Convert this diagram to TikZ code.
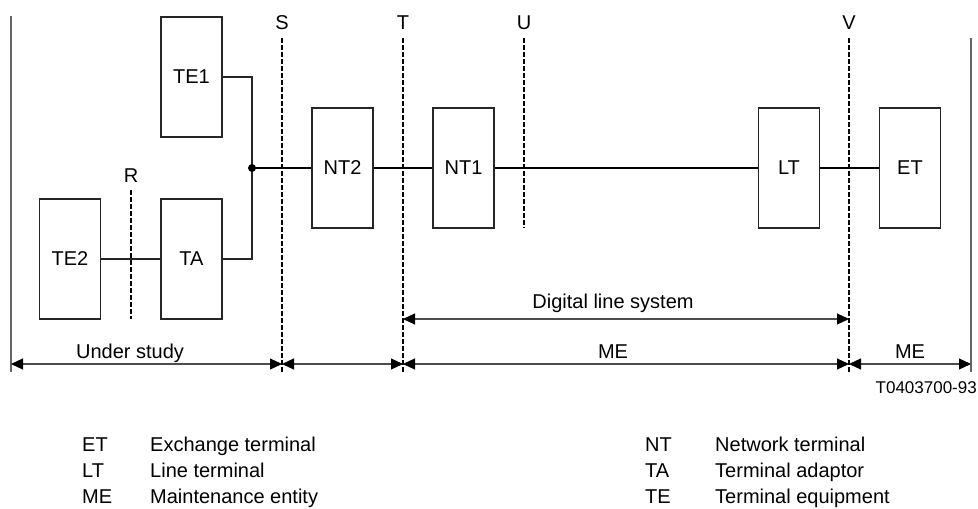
\documentclass[tikz,border=0pt]{standalone}
\usepackage{fontspec}
\setmainfont{Liberation Sans}
\usetikzlibrary{arrows.meta}
\begin{document}
\begin{tikzpicture}[x=1pt,y=-1pt,
  font=\fontsize{20}{24}\selectfont,
  unitbox/.style={draw=black!85,line width=1.2pt,minimum width=61pt,minimum height=120pt,inner sep=0pt},
  thinln/.style={draw=black!85,line width=1.2pt},
  thickln/.style={draw=black,line width=2pt},
  refline/.style={draw=black,line width=1.8pt,dash pattern=on 5pt off 2pt},
  borderln/.style={draw=black!60,line width=1.2pt},
  dimln/.style={draw=black!70,line width=1.1pt,{Triangle[length=12pt,width=11pt,black]}-{Triangle[length=12pt,width=11pt,black]}},
  lbl/.style={inner sep=0pt,anchor=base},
  leg/.style={inner sep=0pt,anchor=base west}]
\useasboundingbox (0,0) rectangle (978,509);
% boxes
\node[unitbox] (te1) at (191.5,77) {TE1};
\node[unitbox] (te2) at (70,259) {TE2};
\node[unitbox] (ta) at (191.5,259) {TA};
\node[unitbox] (nt2) at (342.5,168) {NT2};
\node[unitbox] (nt1) at (463.5,168) {NT1};
\node[unitbox] (lt) at (789,168) {LT};
\node[unitbox] (et) at (910,168) {ET};
% borders
\coordinate (bl1) at (11,16); \coordinate (bl2) at (11,372);
\coordinate (br1) at (971,38); \coordinate (br2) at (971,372);
\draw[borderln] (bl1) -- (bl2);
\draw[borderln] (br1) -- (br2);
% reference points
\coordinate (rT) at (131,190); \coordinate (rB) at (131,319);
\coordinate (sT) at (282,38); \coordinate (sB) at (282,372);
\coordinate (tT) at (403,38); \coordinate (tB) at (403,372);
\coordinate (uT) at (524,38); \coordinate (uB) at (524,228);
\coordinate (vT) at (849,38); \coordinate (vB) at (849,372);
\draw[refline] (rT) -- (rB);
\draw[refline] (sT) -- (sB);
\draw[refline] (tT) -- (tB);
\draw[refline] (uT) -- (uB);
\draw[refline] (vT) -- (vB);
\node[lbl] (rl) at (131,182) {R};
\node[lbl] (sl) at (282,29) {S};
\node[lbl] (tl) at (403,29) {T};
\node[lbl] (ul) at (524,29) {U};
\node[lbl] (vl) at (849,29) {V};
% connectors
\coordinate (j) at (252,168);
\draw[thinln] (te1.east) -| (j) |- (ta.east);
\draw[thinln] (te2.east) -- (ta.west);
\draw[thickln] (j) -- (nt2.west);
\draw[thickln] (nt2.east) -- (nt1.west);
\draw[thickln] (nt1.east) -- (lt.west);
\draw[thickln] (lt.east) -- (et.west);
\node[circle,fill=black,inner sep=0pt,minimum size=8pt] (dot) at (j) {};
% dimension arrows
\coordinate (d1) at (403,319); \coordinate (d2) at (849,319);
\draw[dimln] (d1) -- (d2);
\node[lbl] (dls) at (613,308) {Digital line system};
\coordinate (a0) at (11,364); \coordinate (a1) at (282,364);
\coordinate (a2) at (403,364); \coordinate (a3) at (849,364);
\coordinate (a4) at (971,364);
\draw[dimln] (a0) -- (a1);
\draw[dimln] (a1) -- (a2);
\draw[dimln] (a2) -- (a3);
\draw[dimln] (a3) -- (a4);
\node[lbl] (us) at (130,358) {Under study};
\node[lbl] (me1) at (613,358) {ME};
\node[lbl] (me2) at (910,358) {ME};
\node[inner sep=0pt,anchor=base east,font=\fontsize{17}{20}\selectfont] (code) at (977,393) {T0403700-93};
% legend
\node[leg] (k1) at (82,451) {ET};
\node[leg] (v1) at (150,451) {Exchange terminal};
\node[leg] (k2) at (82,477) {LT};
\node[leg] (v2) at (150,477) {Line terminal};
\node[leg] (k3) at (82,503) {ME};
\node[leg] (v3) at (150,503) {Maintenance entity};
\node[leg] (k4) at (645,451) {NT};
\node[leg] (v4) at (715,451) {Network terminal};
\node[leg] (k5) at (645,477) {TA};
\node[leg] (v5) at (715,477) {Terminal adaptor};
\node[leg] (k6) at (645,503) {TE};
\node[leg] (v6) at (715,503) {Terminal equipment};
\end{tikzpicture}
\end{document}
